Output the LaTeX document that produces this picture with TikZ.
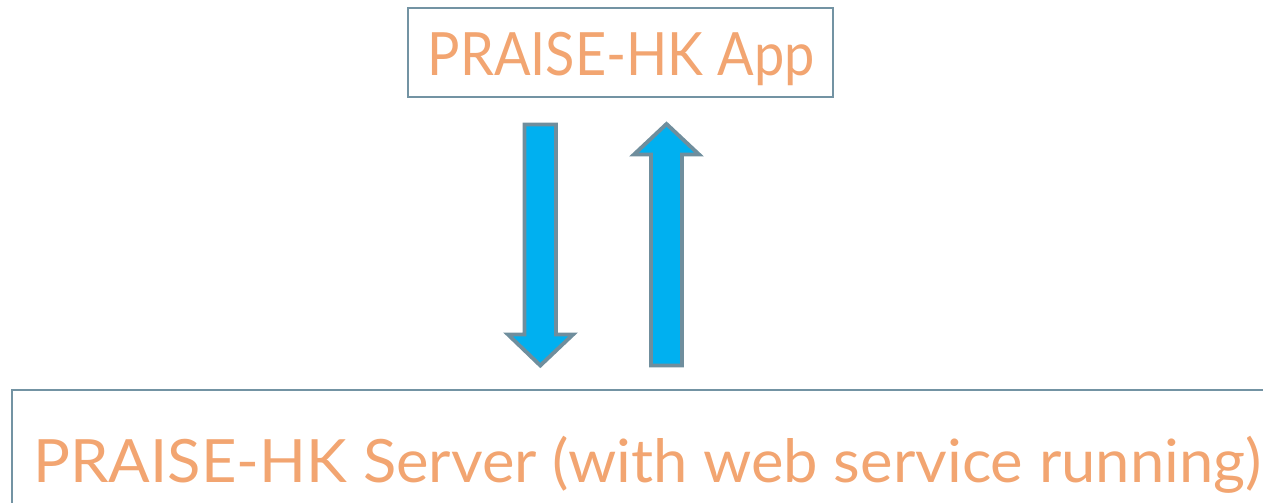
\documentclass[tikz,border=0pt]{standalone}
\usepackage{xcolor}
\usepackage{fontspec}
\setmainfont{Lato}
\usetikzlibrary{arrows,shapes,calc,positioning}
\definecolor{boxline}{HTML}{7393A3}
\definecolor{labeltxt}{HTML}{F2A571}
\definecolor{arrowfill}{HTML}{00B0F0}
\definecolor{arrowline}{HTML}{6F8E9D}
\begin{document}
\begin{tikzpicture}[x=0.02cm,y=-0.02cm]
		\tikzstyle{every node}=[font=\fontsize{34}{40}\selectfont, text=labeltxt]
		\tikzstyle{box}=[draw=boxline, line width=1.2pt]
		\tikzstyle{bigarrow}=[draw=arrowline, fill=arrowfill, line width=2.2pt, line join=miter]
		\useasboundingbox (0,0) rectangle (1263,503);
		\clip (0,0) rectangle (1263,503);
		% boxes
		\draw [box] (408,8) rectangle (833,97);
		\draw [box] (12,390) rectangle (1290,540);
		\node [anchor=base, inner sep=0pt, xscale=0.905] (app) at (621,76) {PRAISE-HK App};
		\node [anchor=base west, inner sep=0pt, xscale=1.03] (server) at (33,482) {PRAISE-HK Server (with web service running)};
		% arrows
		\draw [bigarrow] (524.5,124.5) -- (556,124.5) -- (556,334.5) -- (573,334.5) -- (540.3,365.5) -- (508,334.5) -- (524.5,334.5) -- cycle;
		\draw [bigarrow] (651,365.5) -- (682,365.5) -- (682,154.5) -- (699,154.5) -- (666.5,124) -- (634,154.5) -- (651,154.5) -- cycle;
	\end{tikzpicture}
\end{document}
